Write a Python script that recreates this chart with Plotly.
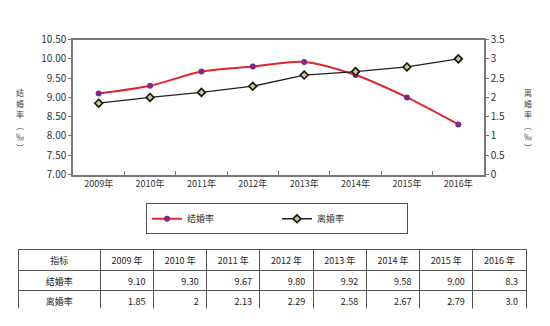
import plotly.graph_objects as go

years = ["2009年", "2010年", "2011年", "2012年", "2013年", "2014年", "2015年", "2016年"]
table_years = ["2009 年", "2010 年", "2011 年", "2012 年", "2013 年", "2014 年", "2015 年", "2016 年"]
marriage = [9.10, 9.30, 9.67, 9.80, 9.92, 9.58, 9.00, 8.30]
divorce = [1.85, 2.00, 2.13, 2.29, 2.58, 2.67, 2.79, 3.00]
marriage_txt = ["9.10", "9.30", "9.67", "9.80", "9.92", "9.58", "9.00", "8.3"]
divorce_txt = ["1.85", "2", "2.13", "2.29", "2.58", "2.67", "2.79", "3.0"]
left_ticks = [7.0, 7.5, 8.0, 8.5, 9.0, 9.5, 10.0, 10.5]
right_ticks = [0, 0.5, 1, 1.5, 2, 2.5, 3, 3.5]
right_ticktext = ["0", "0.5", "1", "1.5", "2", "2.5", "3", "3.5"]
left_title = ["结", "婚", "率", "︵", "‰", "︶"]
right_title = ["离", "婚", "率", "︵", "‰", "︶"]

W, H = 550, 326
FONT = "Noto Sans CJK SC"
fig = go.Figure()

fig.add_trace(go.Scatter(
    x=years, y=marriage, name="结婚率", mode="lines+markers",
    line=dict(color="#e0262c", width=2, shape="spline", smoothing=0.8),
    marker=dict(symbol="circle", size=6, color="#7a2c8c", line=dict(color="#7a2c8c", width=0)),
    yaxis="y"))
fig.add_trace(go.Scatter(
    x=years, y=divorce, name="离婚率", mode="lines+markers",
    line=dict(color="#222222", width=1.3),
    marker=dict(symbol="diamond", size=6, color="#c8c690", line=dict(color="#111111", width=1.6)),
    yaxis="y2"))

fig.add_trace(go.Table(
    domain=dict(x=[18 / W, 526 / W], y=[1 - 314 / H, 1 - 252 / H]),
    columnwidth=[82] + [53] * 8,
    header=dict(values=["指标"] + table_years,
                align="center", height=21,
                fill_color="white", line=dict(color="#555555", width=1),
                font=dict(family=FONT, size=9, color="#222")),
    cells=dict(values=[["结婚率", "离婚率"]] + [[m, d] for m, d in zip(marriage_txt, divorce_txt)],
               align=["center"] + ["right"] * 8, height=20,
               fill_color="white", line=dict(color="#555555", width=1),
               font=dict(family=FONT, size=9, color="#222"))))

annotations = []
for i, (lc, rc) in enumerate(zip(left_title, right_title)):
    yy = 1 - (88 + 11.5 * i) / H
    for ch, xx in ((lc, 20 / W), (rc, 528 / W)):
        annotations.append(dict(text=ch, x=xx, y=yy, xref="paper", yref="paper",
                                xanchor="center", yanchor="middle", borderpad=0,
                                showarrow=False, font=dict(size=8, color="#444")))

fig.update_layout(
    width=W, height=H, margin=dict(l=0, r=0, t=0, b=0),
    paper_bgcolor="white", plot_bgcolor="white",
    font=dict(family=FONT, size=9, color="#333"),
    xaxis=dict(domain=[73 / W, 484 / W], type="category", range=[-0.5, 7.5],
               showline=True, linecolor="#777", linewidth=1.5, mirror=True,
               ticks="inside", tickson="boundaries", ticklen=4, tickcolor="#777",
               showgrid=False, tickfont=dict(size=9, color="#333")),
    yaxis=dict(domain=[1 - 174 / H, 1 - 33 / H], range=[7.0, 10.5],
               tickvals=left_ticks, tickformat=".2f",
               showline=True, linecolor="#777", linewidth=1.5,
               ticks="outside", ticklen=3, tickcolor="#777",
               showgrid=False, zeroline=False, tickfont=dict(size=10, color="#333")),
    yaxis2=dict(overlaying="y", side="right", range=[0, 3.5],
                tickvals=right_ticks, ticktext=right_ticktext,
                showline=True, linecolor="#777", linewidth=1.5,
                ticks="outside", ticklen=3, tickcolor="#777",
                showgrid=False, zeroline=False, tickfont=dict(size=10, color="#333")),
    legend=dict(orientation="h", x=277 / W, xanchor="center", y=1 - 204 / H, yanchor="top",
                bordercolor="#555", borderwidth=1, bgcolor="white",
                entrywidth=85, font=dict(size=9, color="#333"),
                itemwidth=30),
    annotations=annotations,
)

fig.write_html("out.html")
